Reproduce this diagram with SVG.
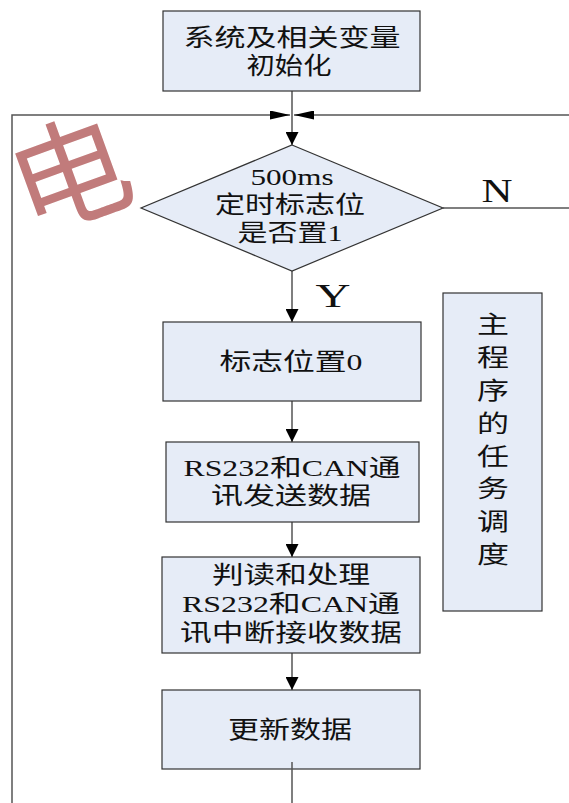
<svg xmlns="http://www.w3.org/2000/svg" width="569" height="803" viewBox="0 0 569 803">
<style>
.bg{fill:#ffffff}
.wm{font-family:"Noto Sans CJK SC",sans-serif;fill:#C17B7B}
.box{fill:#E6ECF7;stroke:#333333;stroke-width:1.2}
.t{font-family:"Liberation Serif","Noto Sans CJK SC",serif;font-size:24px;fill:#111111;text-anchor:middle}
.lbl{font-family:"Liberation Serif",serif;font-size:34px;fill:#111111;text-anchor:middle}
.ln{fill:none;stroke:#555555;stroke-width:1.5}
</style>
<defs>
<marker id="ad" markerUnits="userSpaceOnUse" viewBox="0 0 14 14" refX="14" refY="7" markerWidth="14" markerHeight="13" orient="auto">
<path d="M0,0 L14,7 L0,14 z" fill="#000000"/>
</marker>
<marker id="ah" markerUnits="userSpaceOnUse" viewBox="0 0 20 9" refX="20" refY="4.5" markerWidth="20" markerHeight="9" orient="auto">
<path d="M0,0 L20,4.5 L0,9 z" fill="#000000"/>
</marker>
</defs>
<rect class="bg" x="0" y="0" width="569" height="803"/>
<g id="watermark">
<text class="wm" x="70" y="218" font-size="118" text-anchor="middle" transform="rotate(-20 70 175)">电</text>
</g>
<g id="connectors">
<line class="ln" x1="292" y1="91" x2="292" y2="145" marker-end="url(#ad)"/>
<polyline class="ln" points="12,803 12,115 290,115" marker-end="url(#ah)"/>
<line class="ln" x1="569" y1="115" x2="294" y2="115" marker-end="url(#ah)"/>
<line class="ln" x1="443" y1="208" x2="569" y2="208"/>
<line class="ln" x1="292" y1="271" x2="292" y2="322" marker-end="url(#ad)"/>
<line class="ln" x1="292" y1="401" x2="292" y2="442" marker-end="url(#ad)"/>
<line class="ln" x1="292" y1="522" x2="292" y2="557" marker-end="url(#ad)"/>
<line class="ln" x1="292" y1="653" x2="292" y2="690" marker-end="url(#ad)"/>
</g>
<g id="init">
<rect class="box" x="163" y="11" width="257" height="80"/>
<text class="t" x="292" y="46" textLength="217" lengthAdjust="spacingAndGlyphs">系统及相关变量</text>
<text class="t" x="289" y="74" textLength="85" lengthAdjust="spacingAndGlyphs">初始化</text>
</g>
<g id="decision">
<polygon class="box" points="292,145 443,208 292,271 141,208"/>
<text class="t" x="292" y="185" textLength="83" lengthAdjust="spacingAndGlyphs">500ms</text>
<text class="t" x="290" y="213" textLength="150" lengthAdjust="spacingAndGlyphs">定时标志位</text>
<text class="t" x="290" y="241" textLength="105" lengthAdjust="spacingAndGlyphs">是否置1</text>
</g>
<g id="labels">
<text class="lbl" x="497" y="202" textLength="31" lengthAdjust="spacingAndGlyphs">N</text>
<text class="lbl" x="333" y="307" textLength="35" lengthAdjust="spacingAndGlyphs">Y</text>
</g>
<g id="clearflag">
<rect class="box" x="163" y="322" width="258" height="79"/>
<text class="t" x="291" y="370" textLength="143" lengthAdjust="spacingAndGlyphs">标志位置0</text>
</g>
<g id="send">
<rect class="box" x="166" y="442" width="253" height="80"/>
<text class="t" x="292" y="476" textLength="217" lengthAdjust="spacingAndGlyphs">RS232和CAN通</text>
<text class="t" x="291" y="504" textLength="160" lengthAdjust="spacingAndGlyphs">讯发送数据</text>
</g>
<g id="receive">
<rect class="box" x="162" y="557" width="258" height="96"/>
<text class="t" x="291" y="583" textLength="158" lengthAdjust="spacingAndGlyphs">判读和处理</text>
<text class="t" x="291" y="612" textLength="218" lengthAdjust="spacingAndGlyphs">RS232和CAN通</text>
<text class="t" x="291" y="641" textLength="222" lengthAdjust="spacingAndGlyphs">讯中断接收数据</text>
</g>
<g id="update">
<rect class="box" x="162" y="690" width="258" height="79"/>
<text class="t" x="290" y="738" textLength="124" lengthAdjust="spacingAndGlyphs">更新数据</text>
<line class="ln" x1="292" y1="762" x2="292" y2="803"/>
</g>
<g id="sidenote">
<rect class="box" x="443" y="293" width="99" height="318"/>
<text class="t" x="493" y="333" textLength="32" lengthAdjust="spacingAndGlyphs">主</text>
<text class="t" x="493" y="366" textLength="32" lengthAdjust="spacingAndGlyphs">程</text>
<text class="t" x="493" y="399" textLength="32" lengthAdjust="spacingAndGlyphs">序</text>
<text class="t" x="493" y="432" textLength="32" lengthAdjust="spacingAndGlyphs">的</text>
<text class="t" x="493" y="465" textLength="32" lengthAdjust="spacingAndGlyphs">任</text>
<text class="t" x="493" y="497" textLength="32" lengthAdjust="spacingAndGlyphs">务</text>
<text class="t" x="493" y="530" textLength="32" lengthAdjust="spacingAndGlyphs">调</text>
<text class="t" x="493" y="563" textLength="32" lengthAdjust="spacingAndGlyphs">度</text>
</g>
</svg>
